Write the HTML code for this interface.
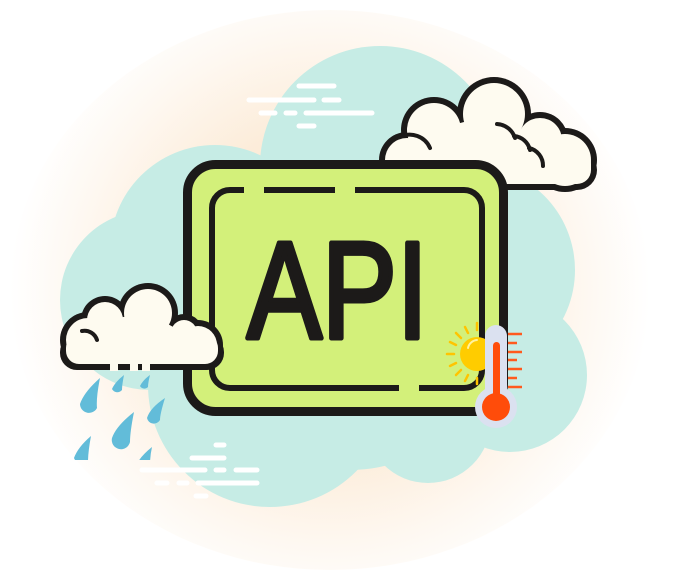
<!DOCTYPE html>
<html><head><style>html,body{margin:0;padding:0;background:#fff}svg{display:block}</style></head>
<body>
<svg width="680" height="578" viewBox="0 0 680 578" xmlns="http://www.w3.org/2000/svg">
<defs>
<radialGradient id="glow" cx="330" cy="290" r="320" gradientUnits="userSpaceOnUse">
<stop offset="0.5" stop-color="#fcecd9"/><stop offset="0.8" stop-color="#fef8f1"/><stop offset="1" stop-color="#ffffff"/>
</radialGradient>
<clipPath id="sunclip"><rect x="440" y="320" width="46" height="80"/></clipPath>
<clipPath id="rainclip"><rect x="0" y="368" width="300" height="92"/></clipPath>
</defs>
<rect width="680" height="578" fill="#fff"/>
<ellipse cx="330" cy="290" rx="320" ry="280" fill="url(#glow)"/>
<!-- teal blob -->
<g fill="#c6ece5">
<circle cx="380" cy="166" r="120"/>
<circle cx="215" cy="250" r="105"/>
<circle cx="150" cy="300" r="90"/>
<circle cx="270" cy="385" r="122"/>
<circle cx="428" cy="420" r="63"/>
<circle cx="470" cy="270" r="105"/>
<circle cx="510" cy="375" r="77"/>
<circle cx="350" cy="320" r="150"/>
</g>
<!-- white dashes -->
<g stroke="#fff" stroke-width="5" stroke-linecap="round">
<line x1="299" y1="86" x2="334" y2="86"/>
<line x1="249" y1="100" x2="314" y2="100"/><line x1="324" y1="100" x2="339" y2="100"/>
<line x1="261" y1="113" x2="275" y2="113"/><line x1="286" y1="113" x2="295" y2="113"/><line x1="306" y1="113" x2="372" y2="113"/>
<line x1="299" y1="126" x2="314" y2="126"/>
<line x1="216" y1="445" x2="224" y2="445"/>
<line x1="192" y1="458" x2="224" y2="458"/>
<line x1="142" y1="470" x2="205" y2="470"/><line x1="216" y1="470" x2="224" y2="470"/><line x1="236" y1="470" x2="257" y2="470"/>
<line x1="157" y1="483" x2="167" y2="483"/><line x1="179" y1="483" x2="187" y2="483"/><line x1="198" y1="483" x2="257" y2="483"/>
<line x1="196" y1="496" x2="206" y2="496"/>
</g>
<!-- right cloud -->
<g>
<g fill="#1c1a19">
<circle cx="407" cy="160" r="28"/><circle cx="434" cy="130" r="33"/><circle cx="494" cy="114" r="37"/>
<circle cx="540" cy="140" r="28"/><circle cx="565" cy="160" r="32"/><rect x="379" y="150" width="218" height="40" rx="20"/>
</g>
<g fill="#fefbf0">
<circle cx="407" cy="160" r="22"/><circle cx="434" cy="130" r="27"/><circle cx="494" cy="114" r="31"/>
<circle cx="540" cy="140" r="22"/><circle cx="565" cy="160" r="26"/><rect x="385" y="150" width="206" height="34" rx="14"/>
<polygon points="407,160 434,130 494,114 540,140 565,160 565,170 407,170"/>
</g>
<g fill="none" stroke="#1c1a19" stroke-width="4" stroke-linecap="round">
<path d="M400 137 A22 22 0 0 1 430 148"/>
<path d="M497 124 A20 20 0 0 1 515 138"/>
<path d="M514 136 A18 18 0 0 1 530 150"/>
<path d="M529 148 A18 18 0 0 1 543 166"/>
</g>
</g>
<!-- board -->
<rect x="187.5" y="164.5" width="316" height="247" rx="28" fill="#d3f07a" stroke="#1c1a19" stroke-width="9"/>
<rect x="212" y="190" width="270" height="198" rx="18" fill="none" stroke="#1c1a19" stroke-width="6"/>
<g fill="#d3f07a">
<rect x="244" y="185" width="20" height="10"/>
<rect x="335" y="185" width="20" height="10"/>
<rect x="399" y="383" width="20" height="10"/>
</g>
<text x="247" y="338" font-family="Liberation Sans, sans-serif" font-size="138" textLength="181" lengthAdjust="spacingAndGlyphs" fill="#1c1a19" stroke="#1c1a19" stroke-width="5" stroke-linejoin="round">API</text>
<!-- thermometer -->
<g>
<g clip-path="url(#sunclip)">
<circle cx="477" cy="354" r="17" fill="#ffcc00"/>
<g stroke="#ffc400" stroke-width="2.5" stroke-linecap="round">
<line x1="477" y1="330" x2="477" y2="323"/><line x1="461" y1="338" x2="456" y2="333"/>
<line x1="454" y1="354" x2="447" y2="354"/><line x1="461" y1="370" x2="456" y2="375"/>
<line x1="468" y1="333" x2="465" y2="327"/><line x1="456" y1="345" x2="450" y2="342"/>
<line x1="456" y1="363" x2="450" y2="366"/><line x1="468" y1="375" x2="465" y2="381"/>
<line x1="477" y1="378" x2="477" y2="384"/>
</g>
</g>
<path d="M468 348 A10 10 0 0 1 477 340" stroke="#fff3a0" stroke-width="2" fill="none" stroke-linecap="round"/>
<rect x="485" y="325" width="22" height="80" rx="11" fill="#dbe1f0"/>
<circle cx="496" cy="407" r="21" fill="#dbe1f0"/>
<rect x="493" y="342" width="7" height="60" rx="3.5" fill="#ff4c0a"/>
<circle cx="496" cy="407" r="14" fill="#ff4c0a"/>
<g stroke="#ff5a1e" stroke-width="2.5">
<line x1="508" y1="334" x2="522" y2="334"/><line x1="508" y1="343" x2="517" y2="343"/>
<line x1="508" y1="352" x2="522" y2="352"/><line x1="508" y1="360" x2="517" y2="360"/>
<line x1="508" y1="369" x2="522" y2="369"/><line x1="508" y1="378" x2="517" y2="378"/>
<line x1="508" y1="387" x2="522" y2="387"/>
</g>
</g>
<!-- rain -->
<g fill="#62bcd9" clip-path="url(#rainclip)">
<path d="M100 378 Q96 398 97 408 A9 9 0 0 1 80 404 Q84 392 100 378Z"/>
<path d="M124 375 Q122 385 122 390 A6 6 0 0 1 112 389 Q115 382 124 375Z"/>
<path d="M150 375 Q148 383 148 387 A5 5 0 0 1 140 386 Q143 380 150 375Z"/>
<path d="M165 398 Q160 414 160 420 A7 7 0 0 1 147 418 Q150 408 165 398Z"/>
<path d="M134 412 Q130 432 130 442 A9 9 0 0 1 112 438 Q116 426 134 412Z"/>
<path d="M91 436 Q88 452 88 462 A9 9 0 0 1 74 458 Q78 447 91 436Z"/>
<path d="M152 447 Q150 456 150 465 A7 7 0 0 1 138 462 Q142 455 152 447Z"/>
</g>
<!-- left cloud -->
<g>
<g fill="#1c1a19">
<circle cx="88" cy="340" r="28"/><circle cx="105" cy="320" r="24"/><circle cx="148" cy="313" r="30"/>
<circle cx="184" cy="333" r="19"/><circle cx="198" cy="345" r="25"/><rect x="60" y="335" width="164" height="35" rx="17"/>
</g>
<g fill="#fefbf0">
<circle cx="88" cy="340" r="22"/><circle cx="105" cy="320" r="18"/><circle cx="148" cy="313" r="24"/>
<circle cx="184" cy="333" r="13"/><circle cx="198" cy="345" r="19"/><rect x="66" y="335" width="152" height="29" rx="13"/>
<polygon points="88,340 105,320 148,313 184,333 198,345 198,352 88,352"/>
</g>
<path d="M82 331 A13 13 0 0 1 97 340" stroke="#1c1a19" stroke-width="4" fill="none" stroke-linecap="round"/>
<g fill="#fefbf0"><rect x="110" y="362" width="8" height="9"/><rect x="130" y="362" width="8" height="9"/><rect x="142" y="362" width="8" height="9"/></g>
</g>
</svg>
</body></html>
